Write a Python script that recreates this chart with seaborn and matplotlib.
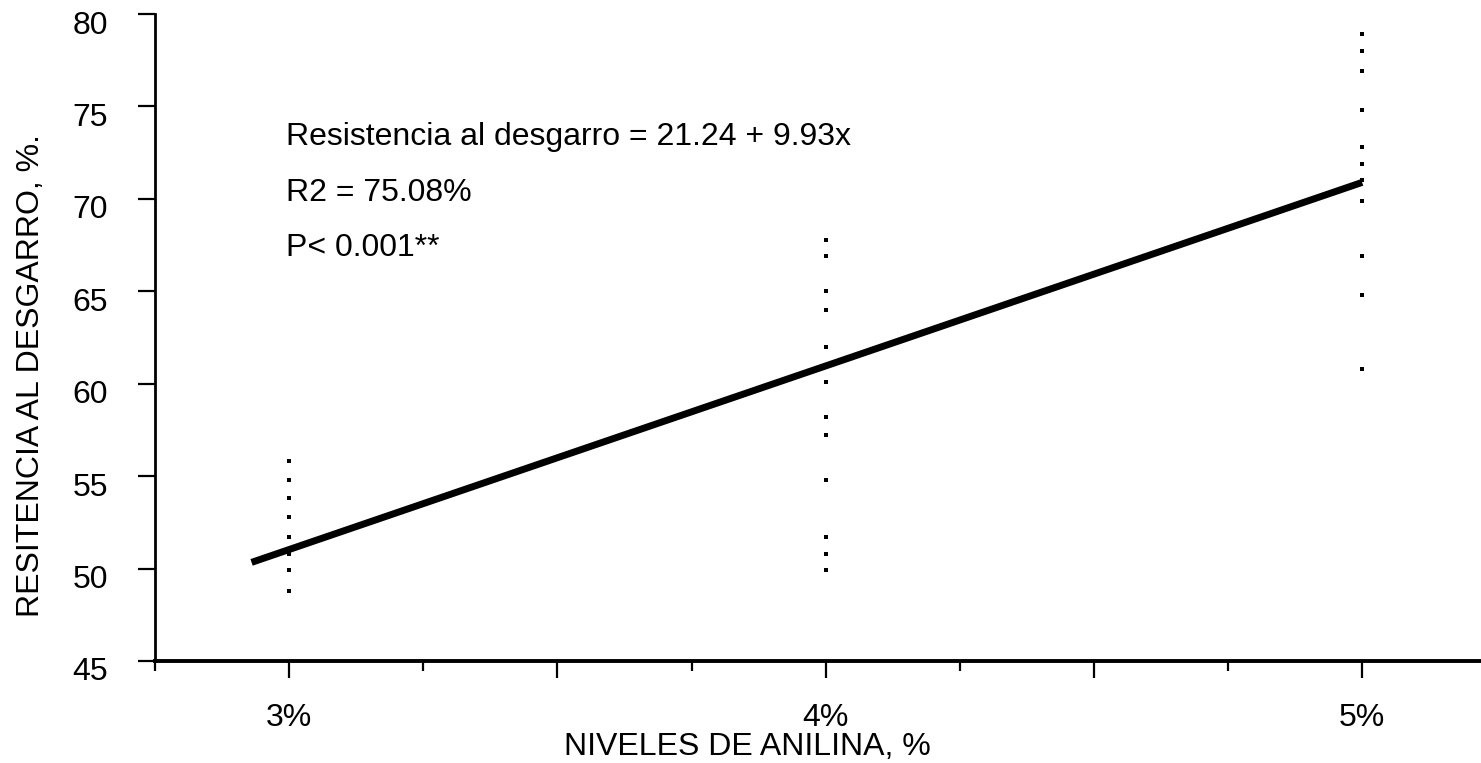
import matplotlib
matplotlib.use("Agg")
import matplotlib.pyplot as plt
import matplotlib.transforms as mtransforms
import pandas as pd
import seaborn as sns

# Resistencia al desgarro observada por nivel de anilina (%)
niveles = [3, 4, 5]
resist_3 = [55.8, 54.8, 53.8, 52.8, 51.7, 50.8, 49.9, 48.8]
resist_4 = [67.8, 66.9, 65.0, 64.0, 62.0, 60.1, 58.2, 57.2, 54.8, 51.7, 50.8, 49.9]
resist_5 = [78.9, 78.0, 76.9, 74.8, 72.8, 71.9, 71.0, 69.9, 66.9, 64.8, 60.8]

# Recta de regresión
intercepto = 21.24
pendiente = 9.93
r2 = 75.08
p_texto = "P< 0.001**"
linea_x = [2.93, 5.0]

x_ticks = [3, 3.5, 4, 4.5, 5]
x_tick_labels = ["3%", "", "4%", "", "5%"]
x_minor = [2.75, 3.25, 3.75, 4.25, 4.75]
y_ticks = [45, 50, 55, 60, 65, 70, 75, 80]

x_label = "NIVELES DE ANILINA, %"
y_label = "RESITENCIA AL DESGARRO, %."

sns.set_style("ticks")
plt.rcParams["font.family"] = ["Liberation Sans", "DejaVu Sans"]
plt.rcParams["text.color"] = "black"
plt.rcParams["axes.labelcolor"] = "black"

obs = pd.DataFrame({
    "nivel": [niveles[0]] * len(resist_3) + [niveles[1]] * len(resist_4) + [niveles[2]] * len(resist_5),
    "resistencia": resist_3 + resist_4 + resist_5,
})
recta = pd.DataFrame({
    "nivel": linea_x,
    "resistencia": [intercepto + pendiente * x for x in linea_x],
})

W, H = 1481, 763
fig = plt.figure(figsize=(W / 100, H / 100), dpi=100)
ax = fig.add_axes([155 / W, 102 / H, (W - 155) / W, 647 / H])

sns.scatterplot(data=obs, x="nivel", y="resistencia", ax=ax, marker="s",
                s=9, color="black", linewidth=0, zorder=3)
sns.lineplot(data=recta, x="nivel", y="resistencia", ax=ax, color="black",
             linewidth=5, solid_capstyle="butt", zorder=4)

ax.set_xlim(2.75, 2.75 + (W - 155) / 536.5)
ax.set_ylim(45, 80)
ax.set_xticks(x_ticks)
ax.set_xticklabels(x_tick_labels)
ax.set_xticks(x_minor, minor=True)
ax.set_yticks(y_ticks)

for s in ("top", "right"):
    ax.spines[s].set_visible(False)
ax.spines["left"].set_linewidth(2.0)
ax.spines["bottom"].set_linewidth(2.8)
ax.spines["left"].set_color("black")
ax.spines["bottom"].set_color("black")

ax.tick_params(axis="y", direction="out", length=12, width=1.6, pad=22,
               labelsize=23, colors="black")
ax.tick_params(axis="x", which="major", direction="out", length=12, width=1.6,
               pad=18, labelsize=23, colors="black")
ax.tick_params(axis="x", which="minor", direction="out", length=7, width=1.6,
               colors="black")

# etiquetas del eje Y algo por debajo de su marca
bajar = mtransforms.ScaledTranslation(0, -8 / 100, fig.dpi_scale_trans)
for lbl in ax.get_yticklabels():
    lbl.set_transform(lbl.get_transform() + bajar)

ax.set_xlabel(x_label, fontsize=23, color="black")
ax.set_ylabel(y_label, fontsize=23, color="black")
ax.xaxis.set_label_coords(0.447, -0.110)
ax.yaxis.set_label_coords(-0.082, 0.441)

tx = 2.994
ax.text(tx, 72.9, f"Resistencia al desgarro = {intercepto:.2f} + {pendiente:.2f}x",
        fontsize=23, va="baseline", ha="left", color="black")
ax.text(tx, 69.9, f"R2 = {r2:.2f}%", fontsize=23, va="baseline", ha="left",
        color="black")
ax.text(tx, 66.9, p_texto, fontsize=23, va="baseline", ha="left", color="black")

fig.savefig("out.png", dpi=100, facecolor="white")
